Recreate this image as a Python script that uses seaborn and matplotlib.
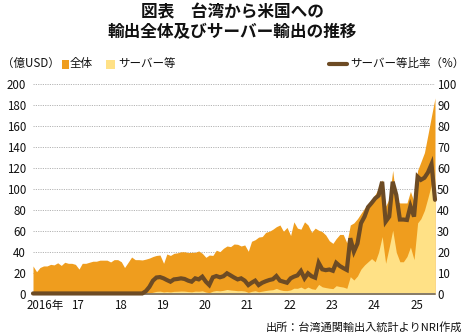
import matplotlib
matplotlib.use("Agg")
import matplotlib.pyplot as plt
import pandas as pd
import seaborn as sns
from matplotlib.patches import Rectangle
from matplotlib.lines import Line2D

# Monthly series, Jan 2016 - Jul 2025
months = pd.date_range("2016-01-01", periods=115, freq="MS")

# Exports to the US, total (100 million USD)
total = [
    27, 21.5, 25.5, 27, 27, 28.5, 28, 30, 27.5, 30.5, 29.5, 29.5,
    28.5, 24, 29.5, 29.5, 30.5, 31.5, 31.5, 32.5, 32.5, 32.5, 30.8, 33,
    33, 31, 25.5, 30.5, 35.5, 33, 33, 32.7, 33.5, 34.5, 36, 37,
    37.4, 29.5, 38.4, 37, 39, 39.5, 40.5, 40.5, 39.7, 40, 40, 41.3,
    39, 35.2, 37.4, 37, 42, 40.6, 43.8, 46, 45.4, 47.9, 47.6, 46,
    47, 41, 50.5, 52, 54.5, 55, 59, 60, 62, 64.4, 66, 60,
    63.7, 56, 69, 63, 62, 69, 66, 59, 63, 61, 59.6, 56.5,
    51, 48.5, 53, 57, 57, 49, 66, 68, 72, 77, 82, 86,
    90, 95, 101, 109, 84, 91, 118, 89, 87, 87, 87, 98,
    88, 118, 126, 135, 152, 170, 187,
]

# Servers etc. (100 million USD)
server = [
    0.2, 0.2, 0.2, 0.2, 0.2, 0.2, 0.2, 0.2, 0.2, 0.2, 0.2, 0.2,
    0.2, 0.2, 0.2, 0.2, 0.2, 0.2, 0.2, 0.2, 0.2, 0.2, 0.2, 0.2,
    0.2, 0.2, 0.2, 0.2, 0.2, 0.2, 0.2, 0.2, 0.5, 1.2, 2, 2.8,
    3, 2.3, 2.6, 2.3, 2.8, 2.9, 3.1, 3, 2.6, 2.4, 3, 2.9,
    3.3, 2.1, 1.6, 3, 3.6, 3.3, 3.8, 4.6, 4.1, 3.8, 3.4, 3.5,
    3.1, 1.8, 2.8, 3.4, 2.4, 3, 3.6, 4.1, 4.4, 5.6, 4.3, 3.6,
    3.5, 4.2, 5.8, 5.7, 6.9, 5.1, 6.9, 5.3, 4.7, 9.4, 7.1, 6.4,
    5.8, 5.4, 8.2, 7.4, 6.9, 5.7, 16.8, 13.6, 17.5, 24, 28, 31,
    34, 31, 40, 55, 29.5, 45, 61, 40, 31, 31, 36, 45,
    33, 68, 72, 80, 92, 105, 88,
]

# Share of servers etc. in total (%)
ratio = [
    0.4, 0.4, 0.4, 0.4, 0.4, 0.4, 0.4, 0.4, 0.4, 0.4, 0.4, 0.4,
    0.4, 0.4, 0.4, 0.4, 0.4, 0.4, 0.4, 0.4, 0.4, 0.4, 0.4, 0.4,
    0.4, 0.4, 0.4, 0.4, 0.4, 0.4, 0.4, 0.4, 1.5, 3.5, 6.5, 8,
    8.2, 7.6, 6.8, 6, 7.1, 7.3, 7.6, 7.3, 6.5, 6, 7.6, 7.1,
    8.4, 6, 4.4, 8.1, 8.7, 8.1, 8.6, 10, 9, 8, 7.1, 7.6,
    6.5, 4.4, 5.5, 6.5, 4.4, 5.5, 6.2, 6.8, 7.2, 8.7, 6.5, 6,
    5.5, 7.6, 8.4, 9, 11.1, 7.6, 10, 8.6, 7.9, 15, 11.9, 11.5,
    11.8, 11.2, 15, 13.5, 12.5, 11.6, 26.7, 20.3, 24.2, 33.8, 37, 41.5,
    43.5, 45.7, 47, 53.6, 34.6, 37, 53.6, 47.3, 35.6, 35.6, 35.4, 42,
    37, 56, 54.5, 55.5, 58, 62, 45,
]

year_labels = ["2016年", "17", "18", "19", "20", "21", "22", "23", "24", "25"]
year_ticks = [pd.Timestamp("2016-04-15")] + [
    pd.Timestamp(f"{y}-01-22") for y in range(2017, 2026)
]

ORANGE = "#EF9D1E"
YELLOW = "#FFE186"
BROWN = "#6D4B24"
GRID = "#b4b4b4"

sns.set_theme(style="white")
plt.rcParams["font.family"] = ["Noto Sans CJK JP", "DejaVu Sans"]

W, H = 465, 335
fig = plt.figure(figsize=(W / 100, H / 100), dpi=100)

left, right, top, bottom = 33, 435, 84.3, 294.3
ax = fig.add_axes([left / W, 1 - bottom / H, (right - left) / W, (bottom - top) / H])

# total behind, servers in front
ax.fill_between(months, 0, total, color=ORANGE, lw=0, zorder=2)
ax.fill_between(months, 0, server, color=YELLOW, lw=0, zorder=3)

ax.set_xlim(months[0], months[-1])
ax.set_ylim(0, 200)
ax.set_yticks(range(0, 201, 20))
ax.yaxis.grid(True, linestyle=(0, (1.2, 1.2)), color=GRID, lw=0.7, zorder=0)
ax.xaxis.grid(False)
ax.set_axisbelow(True)
ax.axhline(0, color="#7d7468", lw=1.3, zorder=4, clip_on=False)

for s in ax.spines.values():
    s.set_visible(False)

ax.set_xticks(year_ticks)
ax.set_xticklabels(year_labels)
ax.tick_params(axis="x", length=0, pad=3.5, labelsize=8.3, labelcolor="#111111")
ax.tick_params(axis="y", length=0, pad=5, labelsize=8.3, labelcolor="#111111")
ax.set_xlabel("")
ax.set_ylabel("")

# share of servers on the right-hand axis
ax2 = ax.twinx()
sns.lineplot(x=months, y=ratio, ax=ax2, color=BROWN, lw=3.0, zorder=5)
for ln in ax2.get_lines():
    ln.set_clip_on(False)
    ln.set_solid_joinstyle("miter")
ax2.set_ylim(0, 100)
ax2.set_yticks(range(0, 101, 10))
ax2.set_xlim(months[0], months[-1])
ax2.tick_params(axis="y", length=0, pad=1.5, labelsize=8.3, labelcolor="#111111")
ax2.set_ylabel("")
ax2.set_xlabel("")
ax2.grid(False)
for s in ax2.spines.values():
    s.set_visible(False)

# title
fig.text(0.5, 1 - 12 / H, "図表　台湾から米国への", ha="center", va="center",
         fontsize=12, fontweight="bold", color="#111111")
fig.text(0.5, 1 - 32.5 / H, "輸出全体及びサーバー輸出の推移", ha="center", va="center",
         fontsize=12, fontweight="bold", color="#111111")

# legend row
ly = 1 - 63.5 / H
fs = 8.3
fig.text(2 / W, ly, "（億USD）", ha="left", va="center", fontsize=fs, color="#111111")
fig.patches.append(Rectangle((61.5 / W, 1 - 68.5 / H), 7 / W, 9 / H,
                             transform=fig.transFigure, color=ORANGE, lw=0))
fig.text(70 / W, ly, "全体", ha="left", va="center", fontsize=fs, color="#111111")
fig.patches.append(Rectangle((106 / W, 1 - 68.5 / H), 9 / W, 9 / H,
                             transform=fig.transFigure, color=YELLOW, lw=0))
fig.text(118 / W, ly, "サーバー等", ha="left", va="center", fontsize=fs, color="#111111")
fig.lines.append(Line2D([328.5 / W, 346.5 / W], [ly, ly], transform=fig.transFigure,
                        color=BROWN, lw=3.0, solid_capstyle="round"))
fig.text(350 / W, ly, "サーバー等比率（%）", ha="left", va="center", fontsize=fs,
         color="#111111")

# source
fig.text(462 / W, 1 - 327.5 / H, "出所：台湾通関輸出入統計よりNRI作成", ha="right",
         va="center", fontsize=8, color="#111111")

fig.savefig("out.png", dpi=100)
